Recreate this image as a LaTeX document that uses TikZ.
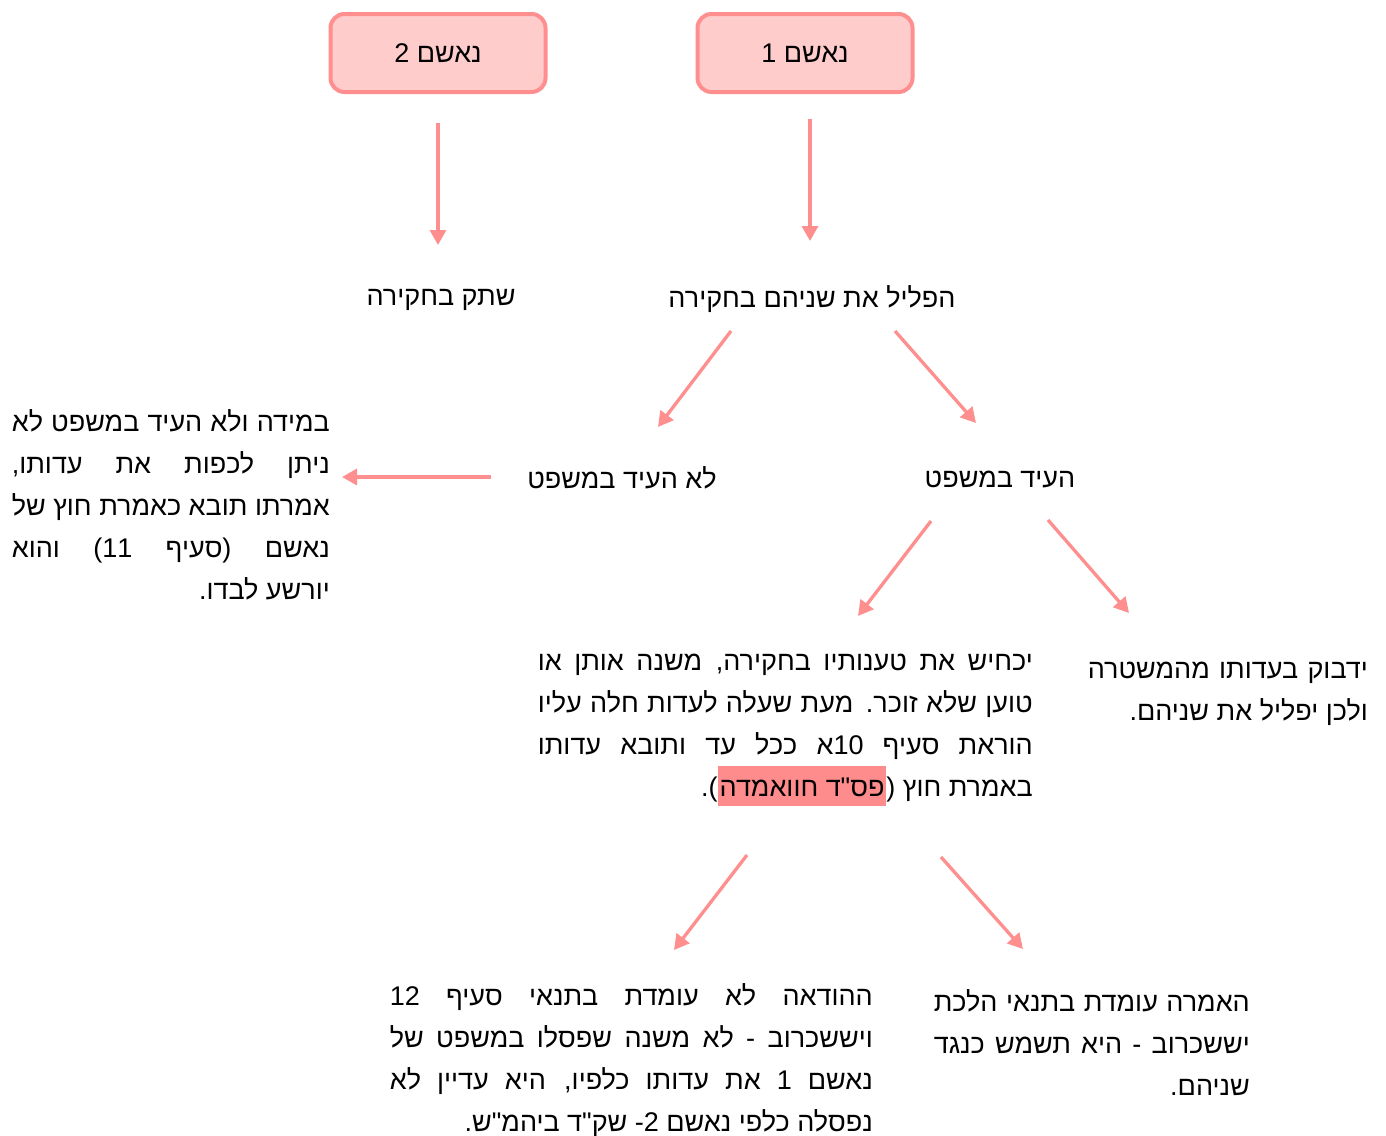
\documentclass[tikz,border=0pt]{standalone}
\usepackage{fontspec}
\setmainfont{Liberation Sans}
\newfontfamily\hebfont[Script=Hebrew]{Liberation Sans}
\TeXXeTstate=1
\usetikzlibrary{arrows.meta}
\definecolor{boxfill}{HTML}{FFCCCC}
\definecolor{boxline}{HTML}{FF8F8F}
\definecolor{arrowc}{HTML}{FF8F8F}
\definecolor{hlcol}{HTML}{FF8C8C}
\newcommand{\RL}[1]{\beginR #1\endR}
\newcommand{\JL}[2]{\hbox to #1{\beginR #2\endR}}
\newcommand{\LRx}[1]{\beginL #1\endL}
\newcommand{\Pg}[1]{\hbox{\rmfamily #1}}
\newcommand{\hlt}[1]{{\setlength{\fboxsep}{0pt}\colorbox{hlcol}{\rule[-9pt]{0pt}{40pt}\hspace{2pt}\beginR #1\endR\hspace{2pt}}}}
\begin{document}
\begin{tikzpicture}[x=1pt,y=-1pt,
  accbox/.style={rounded corners=14pt, fill=boxfill, draw=boxline, line width=4pt,
    minimum width=215pt, minimum height=78pt, inner sep=0pt,
    font=\hebfont\fontsize{27}{42}\selectfont},
  lbl/.style={inner sep=0pt, font=\hebfont\fontsize{27}{42}\selectfont},
  para/.style={inner sep=0pt, align=right, anchor=north east,
    font=\hebfont\fontsize{27}{42}\selectfont},
  arr/.style={draw=arrowc, line width=3.3pt, -{Triangle[length=15pt,width=16pt]}}]
\useasboundingbox (0,0) rectangle (1386,1135);
\fill[white] (0,0) rectangle (1386,1135);

\node[accbox] (acc2) at (438,53) {\RL{נאשם 2}};
\node[accbox] (acc1) at (805,53) {\RL{נאשם 1}};

\node[lbl] (silent) at (441,300) {\RL{שתק בחקירה}};
\node[lbl] (incrim) at (812,299) {\RL{הפליל את שניהם בחקירה}};
\node[lbl] (notest) at (622,478) {\RL{לא העיד במשפט}};
\node[lbl] (test) at (1000,479) {\RL{העיד במשפט}};

\node[para] (pleft) at (330,409) {%
\JL{318pt}{במידה ולא העיד במשפט לא}\\
\JL{318pt}{ניתן לכפות את עדותו,}\\
\JL{318pt}{אמרתו תובא כאמרת חוץ של}\\
\JL{318pt}{נאשם \Pg{)}סעיף \LRx{11}\Pg{(} והוא}\\
\RL{יורשע לבדו.}};

\node[para] (pmid) at (1033,654) {%
\JL{495pt}{יכחיש את טענותיו בחקירה, משנה אותן או}\\
\JL{495pt}{טוען שלא זוכר. מעת שעלה לעדות חלה עליו}\\
\JL{495pt}{הוראת סעיף \LRx{10}א ככל עד ותובא עדותו}\\
\RL{.}\Pg{(}\hlt{פס"ד חוואמדה}\Pg{)}\ \RL{באמרת חוץ}};

\node[para] (pright) at (1368,662) {%
\JL{280pt}{ידבוק בעדותו מהמשטרה}\\
\RL{ולכן יפליל את שניהם.}};

\node[para] (pbl) at (873,983) {%
\JL{483pt}{ההודאה לא עומדת בתנאי סעיף \LRx{12}}\\
\JL{483pt}{ויששכרוב - לא משנה שפסלו במשפט של}\\
\JL{483pt}{נאשם \LRx{1} את עדותו כלפיו, היא עדיין לא}\\
\RL{נפסלה כלפי נאשם \LRx{2}- שק"ד ביהמ"ש.}};

\node[para] (pbr) at (1250,989) {%
\JL{316pt}{האמרה עומדת בתנאי הלכת}\\
\JL{316pt}{יששכרוב - היא תשמש כנגד}\\
\RL{שניהם.}};

\coordinate (a1s) at (438,123); \coordinate (a1e) at (438,245);
\coordinate (b1s) at (810,119); \coordinate (b1e) at (810,241);
\coordinate (c1s) at (731,331); \coordinate (c1e) at (658,427);
\coordinate (d1s) at (895,331); \coordinate (d1e) at (976,423);
\coordinate (e1s) at (491,477); \coordinate (e1e) at (342,477);
\coordinate (f1s) at (931,521); \coordinate (f1e) at (858,616);
\coordinate (g1s) at (1048,520); \coordinate (g1e) at (1129,613);
\coordinate (h1s) at (747,855); \coordinate (h1e) at (674,950);
\coordinate (i1s) at (941,857); \coordinate (i1e) at (1023,949);

\draw[arr] (a1s) -- (a1e);
\draw[arr] (b1s) -- (b1e);
\draw[arr] (c1s) -- (c1e);
\draw[arr] (d1s) -- (d1e);
\draw[arr] (e1s) -- (e1e);
\draw[arr] (f1s) -- (f1e);
\draw[arr] (g1s) -- (g1e);
\draw[arr] (h1s) -- (h1e);
\draw[arr] (i1s) -- (i1e);
\end{tikzpicture}
\end{document}
